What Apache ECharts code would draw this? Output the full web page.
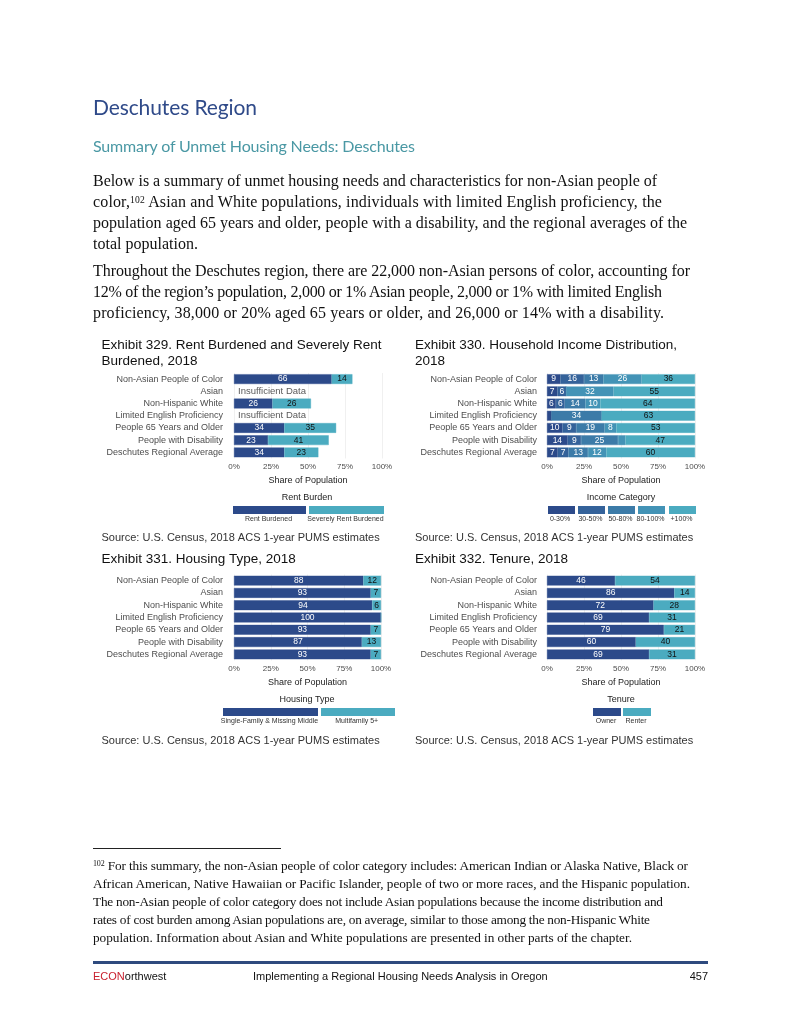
<!DOCTYPE html>
<html><head><meta charset="utf-8">
<script src="https://cdn.jsdelivr.net/npm/echarts@6/dist/echarts.min.js"></script>
<style>
html,body{margin:0;padding:0;background:#fff;}
#page{position:relative;width:800px;height:1035px;overflow:hidden;background:#fff;}
#chart{position:absolute;left:0;top:0;width:800px;height:1035px;}
.t{position:absolute;white-space:nowrap;z-index:2;}
.h1{left:93px;top:94px;font-family:Lato,'Open Sans',sans-serif;font-size:21px;line-height:26px;color:#2F4A89;}
.h2{left:93px;top:136px;font-family:Lato,'Open Sans',sans-serif;font-size:16px;line-height:20px;color:#4A98A4;}
.p{left:93px;font-family:'Liberation Serif',serif;font-size:16px;line-height:21px;color:#111;}
.fn{left:93px;font-family:'Liberation Serif',serif;font-size:13.3px;line-height:18px;color:#111;}
sup{font-size:0.6em;vertical-align:0.45em;line-height:0;}
.ft{font-family:'Liberation Sans',Arial,sans-serif;font-size:11px;line-height:14px;color:#111;top:969px;}
</style></head>
<body><div id="page">
<div id="chart"></div>
<div class="t h1" data-r="257">Deschutes Region</div>
<div class="t h2" data-r="415">Summary of Unmet Housing Needs: Deschutes</div>
<div class="t p" style="top:170px" data-r="657">Below is a summary of unmet housing needs and characteristics for non-Asian people of</div>
<div class="t p" style="top:191px" data-r="662">color,<sup>102</sup> Asian and White populations, individuals with limited English proficiency, the</div>
<div class="t p" style="top:212px" data-r="687">population aged 65 years and older, people with a disability, and the regional averages of the</div>
<div class="t p" style="top:233px">total population.</div>
<div class="t p" style="top:260px" data-r="690">Throughout the Deschutes region, there are 22,000 non-Asian persons of color, accounting for</div>
<div class="t p" style="top:281px" data-r="662">12% of the region’s population, 2,000 or 1% Asian people, 2,000 or 1% with limited English</div>
<div class="t p" style="top:302px" data-r="664">proficiency, 38,000 or 20% aged 65 years or older, and 26,000 or 14% with a disability.</div>
<div style="position:absolute;left:93px;top:848px;width:188px;height:1px;background:#222;"></div>
<div class="t fn" style="top:857px" data-r="688"><sup>102</sup> For this summary, the non-Asian people of color category includes: American Indian or Alaska Native, Black or</div>
<div class="t fn" style="top:875px" data-r="690">African American, Native Hawaiian or Pacific Islander, people of two or more races, and the Hispanic population.</div>
<div class="t fn" style="top:893px" data-r="663">The non-Asian people of color category does not include Asian populations because the income distribution and</div>
<div class="t fn" style="top:911px" data-r="650">rates of cost burden among Asian populations are, on average, similar to those among the non-Hispanic White</div>
<div class="t fn" style="top:929px" data-r="632">population. Information about Asian and White populations are presented in other parts of the chapter.</div>
<div style="position:absolute;left:93px;top:961px;width:615px;height:3px;background:#2E4A7E;"></div>
<div class="t ft" style="left:93px"><span style="color:#C8202E">ECON</span>orthwest</div>
<div class="t ft" style="left:253px">Implementing a Regional Housing Needs Analysis in Oregon</div>
<div class="t ft" style="left:684px;width:24px;text-align:right">457</div>
</div>
<script>
// ---------- data ----------
const categories = ['Non-Asian People of Color','Asian','Non-Hispanic White','Limited English Proficiency','People 65 Years and Older','People with Disability','Deschutes Regional Average'];
const xTickValues = [0, 25, 50, 75, 100];

const rentBurdened         = [66, null, 26, null, 34, 23, 34];
const severelyRentBurdened = [14, null, 26, null, 35, 41, 23];
const insufficientData     = [null, 0, null, 0, null, null, null];

const incomeCategories = ['0-30%','30-50%','50-80%','80-100%','+100%'];
const income0to30   = [9, 7, 6, 3, 10.4, 14, 7.3];
const income30to50  = [16, 6, 6, 0, 9.3, 9, 7.2];
const income50to80  = [13, 0, 14, 34, 19.2, 25, 13.2];
const income80to100 = [26, 32, 10, 0, 7.9, 5, 12.3];
const income100plus = [36, 55, 64, 63, 53.2, 47, 60];

const singleFamily = [88, 93, 94, 100, 93, 87, 93];
const multifamily  = [12, 7, 6, 0, 7, 13, 7];

const owner  = [46, 86, 72, 69, 79, 60, 69];
const renter = [54, 14, 28, 31, 21, 40, 31];

// ---------- styling ----------
const SANS = "'Liberation Sans', Arial, sans-serif";
const NAVY = '#2C4A8A', TEAL = '#4BABC0';
const incomeColors = ['#2C4A8A', '#34629A', '#3C7BA8', '#4393B6', '#4BABC0'];

const grids = [
  {left:234, top:373, width:148, height:85.5},
  {left:547, top:373, width:148, height:85.5},
  {left:234, top:574.5, width:147, height:86},
  {left:547, top:574.5, width:148, height:86}
];

const xAxes = grids.map((g, i) => ({
  gridIndex: i, type: 'value', min: xTickValues[0], max: xTickValues[xTickValues.length-1], interval: 25,
  axisLabel: {formatter: '{value}%', fontSize: 8, color: '#4d4d4d', margin: 4, fontFamily: SANS},
  splitLine: {show: true, lineStyle: {color: '#ececec', width: 0.8}},
  axisLine: {show: false}, axisTick: {show: false},
  name: 'Share of Population', nameLocation: 'middle', nameGap: 18,
  nameTextStyle: {fontSize: 9, color: '#222', fontFamily: SANS}
}));
const yAxes = grids.map((g, i) => ({
  gridIndex: i, type: 'category', data: categories, inverse: true,
  axisLine: {show: false}, axisTick: {show: false}, splitLine: {show: false},
  axisLabel: {fontSize: 9, color: '#4d4d4d', margin: (i % 2 === 0 ? 11 : 10), fontFamily: SANS}
}));

function barSeries(name, data, gi, color, labelColor, minLabel) {
  return {
    name, type: 'bar', data, xAxisIndex: gi, yAxisIndex: gi, stack: 's' + gi,
    barWidth: '80%', itemStyle: {color, borderColor: color, borderWidth: 0.4},
    label: {show: true, position: 'inside', fontSize: 8.5, fontFamily: SANS, color: labelColor,
      formatter: p => (p.value == null || p.value < minLabel) ? '' : String(Math.round(p.value))},
    emphasis: {disabled: true}
  };
}

const series = [
  barSeries('Rent Burdened', rentBurdened, 0, NAVY, '#fff', 1),
  barSeries('Severely Rent Burdened', severelyRentBurdened, 0, TEAL, '#111', 1),
  {
    name: 'Insufficient Data', type: 'bar', data: insufficientData, xAxisIndex: 0, yAxisIndex: 0, stack: 's0',
    barWidth: '80%', itemStyle: {color: 'transparent'},
    label: {show: true, position: 'right', distance: 4, fontSize: 9.5, fontFamily: SANS, color: '#5a5a5a',
      formatter: p => p.value === 0 ? 'Insufficient Data' : ''},
    emphasis: {disabled: true}
  },
  barSeries(incomeCategories[0], income0to30, 1, incomeColors[0], '#fff', 5.5),
  barSeries(incomeCategories[1], income30to50, 1, incomeColors[1], '#fff', 5.5),
  barSeries(incomeCategories[2], income50to80, 1, incomeColors[2], '#fff', 5.5),
  barSeries(incomeCategories[3], income80to100, 1, incomeColors[3], '#fff', 5.5),
  barSeries(incomeCategories[4], income100plus, 1, incomeColors[4], '#111', 5.5),
  barSeries('Single-Family & Missing Middle', singleFamily, 2, NAVY, '#fff', 1),
  barSeries('Multifamily 5+', multifamily, 2, TEAL, '#111', 1),
  barSeries('Owner', owner, 3, NAVY, '#fff', 1),
  barSeries('Renter', renter, 3, TEAL, '#111', 1)
];

function leg(name, left, top, w) {
  return {data: [name], left, top, itemWidth: w, itemHeight: 6, icon: 'rect', selectedMode: false,
    padding: 0, itemGap: 0, formatter: () => '', textStyle: {fontSize: 1}};
}
const legends = [
  leg('Rent Burdened', 233, 506, 71), leg('Severely Rent Burdened', 309, 506, 73),
  leg(incomeCategories[0], 548, 506, 25), leg(incomeCategories[1], 578, 506, 25),
  leg(incomeCategories[2], 608, 506, 25), leg(incomeCategories[3], 638, 506, 25),
  leg(incomeCategories[4], 669, 506, 25),
  leg('Single-Family & Missing Middle', 223, 708, 93), leg('Multifamily 5+', 321, 708, 72),
  leg('Owner', 593, 708, 26), leg('Renter', 623, 708, 26)
];

function txt(text, x, y, size, align, color) {
  return {type: 'text', x, y, silent: true, z: 10,
    style: {text, fontSize: size, fontFamily: SANS, fill: color || '#222', align: align || 'center', verticalAlign: 'middle'}};
}
const graphics = [
  txt('Rent Burden', 307, 497.5, 9),
  txt('Rent Burdened', 268.5, 519, 7, 'center', '#333'),
  txt('Severely Rent Burdened', 345.5, 519, 7, 'center', '#333'),
  txt('Income Category', 621, 498, 9),
  txt(incomeCategories[0], 560, 519, 7, 'center', '#333'),
  txt(incomeCategories[1], 590.5, 519, 7, 'center', '#333'),
  txt(incomeCategories[2], 620.5, 519, 7, 'center', '#333'),
  txt(incomeCategories[3], 650.5, 519, 7, 'center', '#333'),
  txt(incomeCategories[4], 681.5, 519, 7, 'center', '#333'),
  txt('Housing Type', 307, 700, 9),
  txt('Single-Family & Missing Middle', 269.5, 721.5, 7, 'center', '#333'),
  txt('Multifamily 5+', 356.7, 721.5, 7, 'center', '#333'),
  txt('Tenure', 621, 700, 9),
  txt('Owner', 606, 721.5, 7, 'center', '#333'),
  txt('Renter', 636, 721.5, 7, 'center', '#333'),
  txt('Source: U.S. Census, 2018 ACS 1-year PUMS estimates', 101.5, 538, 11, 'left', '#333'),
  txt('Source: U.S. Census, 2018 ACS 1-year PUMS estimates', 415, 538, 11, 'left', '#333'),
  txt('Source: U.S. Census, 2018 ACS 1-year PUMS estimates', 101.5, 741, 11, 'left', '#333'),
  txt('Source: U.S. Census, 2018 ACS 1-year PUMS estimates', 415, 741, 11, 'left', '#333')
];

function ttl(text, left, top) {
  return {text, left, top, padding: 0,
    textStyle: {fontSize: 13.5, fontWeight: 'normal', color: '#111', lineHeight: 16, fontFamily: SANS}};
}
const titles = [
  ttl('Exhibit 329. Rent Burdened and Severely Rent\nBurdened, 2018', 101.5, 337),
  ttl('Exhibit 330. Household Income Distribution,\n2018', 415, 337),
  ttl('Exhibit 331. Housing Type, 2018', 101.5, 551),
  ttl('Exhibit 332. Tenure, 2018', 415, 551)
];

const chart = echarts.init(document.getElementById('chart'), null, {renderer: 'canvas'});
chart.setOption({
  animation: false,
  backgroundColor: 'transparent',
  title: titles,
  grid: grids,
  xAxis: xAxes,
  yAxis: yAxes,
  legend: legends,
  series,
  graphic: graphics
});

// fit text lines to their measured widths in the reference
function fit() {
  document.querySelectorAll('[data-r]').forEach(el => {
    el.style.letterSpacing = '0px';
    const r = el.getBoundingClientRect();
    const target = parseFloat(el.dataset.r) - r.left;
    const n = el.textContent.length;
    let ls = (target - r.width) / Math.max(1, n - 1);
    ls = Math.max(-0.6, Math.min(0.6, ls));
    el.style.letterSpacing = ls.toFixed(3) + 'px';
  });
}
fit();
if (document.fonts && document.fonts.ready) document.fonts.ready.then(fit);
</script>
</body></html>
